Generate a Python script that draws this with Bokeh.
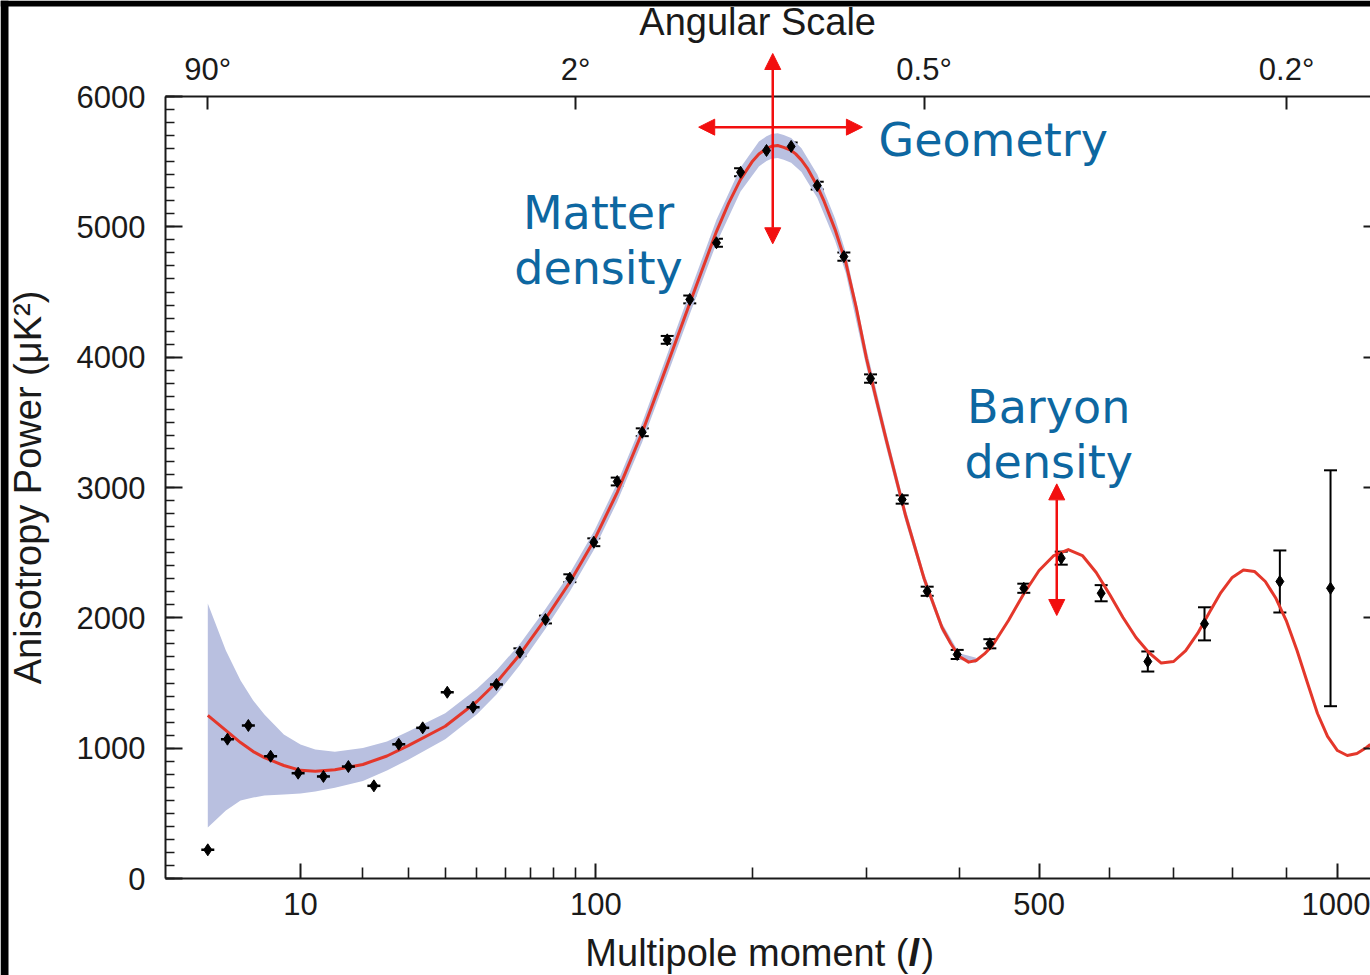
import numpy as np
from bokeh.plotting import figure
from bokeh.models import (ColumnDataSource, FixedTicker, LinearAxis, Range1d, Whisker,
                          TeeHead, Arrow, NormalHead, Label, BoxAnnotation,
                          CustomJSTickFormatter)
from bokeh.embed import file_html
from bokeh.resources import INLINE

# ---------------- values ----------------
# binned measurements: multipole, power (uK^2), 1-sigma error
ell_data = [2.0, 3.1, 4.6, 6.6, 9.7, 13.2, 17.3, 22.2, 27.7, 33.7, 40.6, 48.7, 56.8,
            65.7, 76.3, 87.3, 99.0, 111.3, 125.4, 140.5, 155.0, 173.3, 190.9, 211.0,
            231.2, 253.8, 278.2, 304.0, 336.4, 363.4, 397.5, 436.7, 479.8, 530.2,
            587.3, 658.5, 751.7, 887.2, 986.0]
power_data = [220, 1069, 1174, 938, 808, 783, 859, 711, 1030, 1156, 1429, 1314, 1489,
              1736, 1987, 2304, 2580, 3046, 3424, 4133, 4443, 4878, 5419, 5586,
              5617, 5317, 4772, 3836, 2908, 2204, 1719, 1801, 2227, 2458,
              2189, 1665, 1954, 2279, 2227]
power_err = [0, 0, 0, 0, 0, 0, 0, 0, 0, 0, 0, 0, 0,
             30, 30, 30, 30, 30, 30, 30, 30, 30, 30, 30, 30, 30,
             32, 32, 32, 35, 35, 35, 35,
             50, 62, 77, 127, 238, 905]

# best-fit model curve
ell_model = [2, 3, 4, 5, 6, 8, 10, 12, 15, 20, 25, 30, 40, 50, 56.8, 65.7, 76.3, 87.3,
             99.0, 111.3, 125.4, 140.5, 155.0, 173.3, 182.0, 190.9, 200, 205, 211, 215,
             220, 225, 231.2, 235, 240, 245, 253.8, 260, 270, 280, 290, 300, 310, 320,
             340, 360, 380, 390, 400, 411, 420, 430, 440, 460, 480, 500, 520, 540, 560,
             580, 600, 620, 640, 660, 680, 700, 720, 740, 760, 780, 800, 820, 840, 860,
             880, 900, 920, 940, 960, 980, 1000, 1020, 1040, 1060, 1068]
power_model = [1251, 1136, 1043, 974, 928, 867, 830, 823, 835, 875, 940, 1020, 1168, 1358,
               1504, 1719, 1992, 2273, 2590, 2963, 3424, 3942, 4414, 4964, 5180, 5364,
               5504, 5559, 5601, 5618, 5624, 5610, 5586, 5560, 5512, 5451, 5313, 5195,
               4979, 4726, 4381, 3990, 3668, 3361, 2785, 2302, 1926, 1803, 1703, 1660,
               1673, 1723, 1788, 1980, 2187, 2363, 2478, 2524, 2478, 2348, 2179, 2003,
               1849, 1734, 1653, 1665, 1749, 1880, 2041, 2194, 2310, 2367, 2356, 2279,
               2148, 1972, 1749, 1504, 1266, 1090, 982, 944, 959, 1005, 1028]

# cosmic-variance band around the model
band_ell = [2, 3, 4, 5, 6, 8, 10, 12, 15, 20, 25, 30, 40, 50, 56.8, 65.7, 76.3, 87.3,
            99.0, 111.3, 125.4, 140.5, 155.0, 173.3, 190.9, 205, 211, 215, 220, 225,
            231.2, 240, 253.8, 270, 280, 300, 320, 340, 360, 380, 400, 420]
band_high = [2110, 1749, 1519, 1366, 1258, 1105, 1028, 990, 973, 1001, 1052, 1128, 1268,
             1456, 1596, 1800, 2067, 2343, 2660, 3035, 3499, 4022, 4499, 5054, 5456,
             5654, 5696, 5713, 5719, 5705, 5681, 5604, 5403, 5064, 4806, 4060, 3421,
             2835, 2342, 1958, 1728, 1693]
band_low = [391, 522, 598, 621, 637, 645, 652, 668, 697, 749, 828, 912, 1068, 1260,
            1412, 1638, 1917, 2203, 2520, 2891, 3349, 3862, 4329, 4874, 5272, 5464,
            5506, 5523, 5529, 5515, 5491, 5420, 5223, 4894, 4646, 3920, 3301, 2735,
            2262, 1894, 1678, 1653]

bottom_tick_ell = [10, 100, 500, 1000]
bottom_tick_labels = ["10", "100", "500", "1000"]
bottom_minor_ell = [20, 30, 40, 50, 60, 70, 80, 90, 200, 300, 400, 600, 700, 800, 900]
top_tick_ell = [2, 90, 360, 900]          # l = 180 deg / angle
top_tick_labels = ["90°", "2°", "0.5°", "0.2°"]
y_ticks = [0, 1000, 2000, 3000, 4000, 5000, 6000]
y_minor_step = 100

L_MIN, L_MAX = 0.53, 1068      # multipole range spanned by the axes
P_MIN, P_MAX = 0, 6000         # power range spanned by the axes
# ------------------------------------------------------------------

POW = 0.4  # the multipole axis of the reference is uniform in l**0.4


def tx(l):
    return (np.asarray(l, dtype=float) ** POW).tolist()


W, H = 1370, 975
# page geometry: pixel of l=10 and its scale, pixel of power 0 and its scale
PX_L10, PX_PER_T = 300.0, 77.75
PX_P0, PX_PER_P = 878.0, 0.13033
T10 = 10 ** POW

RED = "#e4372b"
ARROW = "#f20f0f"
BLUE = "#0d67a1"
BAND = "#b9c0e0"
INK = "#1a1a1a"
TICKFONT = "Liberation Sans"

p = figure(width=W, height=H, output_backend="svg", toolbar_location=None,
           x_range=Range1d(T10 - PX_L10 / PX_PER_T, T10 + (W - PX_L10) / PX_PER_T),
           y_range=Range1d(-(H - PX_P0) / PX_PER_P, PX_P0 / PX_PER_P),
           min_border_left=0, min_border_top=0, min_border_bottom=0,
           min_border_right=0, x_axis_location=None, y_axis_location=None)
p.outline_line_color = None
p.xgrid.visible = False
p.ygrid.visible = False
p.background_fill_color = "white"
p.border_fill_color = "white"


def fmt(pos, labs):
    return CustomJSTickFormatter(args=dict(pos=pos, labs=labs), code="""
        let best = -1, d = 1e-3;
        for (let i = 0; i < pos.length; i++) {
            const e = Math.abs(pos[i] - tick);
            if (e < d) { d = e; best = i; }
        }
        return best >= 0 ? labs[best] : "";
    """)


def style(ax, tick_in, minor_in=0):
    ax.axis_line_color = INK
    ax.axis_line_width = 2
    ax.major_tick_line_color = INK
    ax.major_tick_line_width = 2
    ax.minor_tick_line_color = INK
    ax.minor_tick_line_width = 1.6
    ax.major_tick_in = tick_in
    ax.major_tick_out = 0
    ax.minor_tick_in = minor_in
    ax.minor_tick_out = 0
    ax.major_label_text_font = TICKFONT
    ax.major_label_text_font_size = "31px"
    ax.major_label_text_color = INK


xbounds = (tx(L_MIN), tx(L_MAX))

xb = LinearAxis(ticker=FixedTicker(ticks=tx(bottom_tick_ell), minor_ticks=tx(bottom_minor_ell)),
                formatter=fmt(tx(bottom_tick_ell), bottom_tick_labels),
                fixed_location=P_MIN, bounds=xbounds)
style(xb, 15, 11)
xb.major_label_standoff = 14
p.add_layout(xb, "below")

xt = LinearAxis(ticker=FixedTicker(ticks=tx(top_tick_ell), minor_ticks=[]),
                formatter=fmt(tx(top_tick_ell), top_tick_labels),
                fixed_location=P_MAX, bounds=xbounds)
style(xt, 13, 0)
xt.major_label_standoff = 10
p.add_layout(xt, "above")

yl = LinearAxis(ticker=FixedTicker(ticks=y_ticks,
                                   minor_ticks=list(range(P_MIN, P_MAX + 1, y_minor_step))),
                axis_label="Anisotropy Power (μK²)",
                fixed_location=tx(L_MIN), bounds=(P_MIN, P_MAX))
style(yl, 17, 9)
yl.major_label_standoff = 20
yl.axis_label_text_font = TICKFONT
yl.axis_label_text_font_size = "38px"
yl.axis_label_text_font_style = "normal"
yl.axis_label_text_color = INK
yl.axis_label_standoff = 25
p.add_layout(yl, "left")

yr = LinearAxis(ticker=FixedTicker(ticks=y_ticks[1:-1], minor_ticks=[]),
                formatter=CustomJSTickFormatter(code="return '';"),
                fixed_location=tx(L_MAX), bounds=(P_MIN, P_MAX))
style(yr, 7, 0)
yr.axis_line_color = None
yr.major_label_standoff = 0
yr.major_label_text_font_size = "0px"
p.add_layout(yr, "right")

# cosmic variance band and model
p.varea(x=tx(band_ell), y1=band_low, y2=band_high, fill_color=BAND, fill_alpha=1)
p.line(x=tx(ell_model), y=power_model, line_color=RED, line_width=3,
       line_join="round")

# measurements
err_idx = [i for i, e in enumerate(power_err) if e > 0]
err_src = ColumnDataSource(dict(
    x=tx([ell_data[i] for i in err_idx]),
    lo=[power_data[i] - power_err[i] for i in err_idx],
    hi=[power_data[i] + power_err[i] for i in err_idx]))
p.add_layout(Whisker(source=err_src, base="x", lower="lo", upper="hi",
                     line_color="black", line_width=2,
                     upper_head=TeeHead(size=13, line_color="black", line_width=2),
                     lower_head=TeeHead(size=13, line_color="black", line_width=2)))
noerr = [i for i, e in enumerate(power_err) if e == 0]
p.scatter(x=tx([ell_data[i] for i in noerr]), y=[power_data[i] for i in noerr],
          marker="dash", size=13, line_width=2.5, color="black")
p.scatter(x=tx(ell_data), y=power_data, marker="diamond", size=12, color="black")


# arrows (multipole, power)
def arrow(l0, d0, l1, d1):
    p.add_layout(Arrow(x_start=tx(l0), y_start=d0, x_end=tx(l1), y_end=d1,
                       line_color=ARROW, line_width=2.5,
                       start=NormalHead(size=16, fill_color=ARROW, line_color=ARROW),
                       end=NormalHead(size=16, fill_color=ARROW, line_color=ARROW)))


arrow(216, 4870, 216, 6330)
arrow(161, 5765, 296, 5765)
arrow(524, 2018, 524, 3028)


# texts (multipole, power of the baseline)
def note(l, d, text, align="left", size="46px", font="DejaVu Sans", color=BLUE,
         style="normal"):
    p.add_layout(Label(x=tx(l), y=d, text=text, text_align=align,
                       text_baseline="alphabetic", text_font=font,
                       text_font_size=size, text_color=color, text_font_style=style))


note(312, 5670, "Geometry")
note(101.4, 5110, "Matter", "center")
note(101.4, 4688, "density", "center")
note(513, 3614, "Baryon", "center")
note(513, 3192, "density", "center")

note(204, 6568, "Angular Scale", "center", "38px", TICKFONT, INK)
note(343.1, -568, "Multipole moment (", "right", "38px", TICKFONT, INK)
note(343.1, -568, "l", "left", "38px", TICKFONT, INK, "bold italic")
note(357.2, -568, ")", "left", "38px", TICKFONT, INK)

# black strips along the top and left edges of the reference picture
p.add_layout(BoxAnnotation(left=0, right=8, top=0, bottom=H,
                           left_units="canvas", right_units="canvas",
                           top_units="canvas", bottom_units="canvas",
                           fill_color="black", fill_alpha=1, line_color=None,
                           level="overlay"))
p.add_layout(BoxAnnotation(left=0, right=W, top=0, bottom=6,
                           left_units="canvas", right_units="canvas",
                           top_units="canvas", bottom_units="canvas",
                           fill_color="black", fill_alpha=1, line_color=None,
                           level="overlay"))

open("out.html", "w").write(file_html(p, INLINE))
